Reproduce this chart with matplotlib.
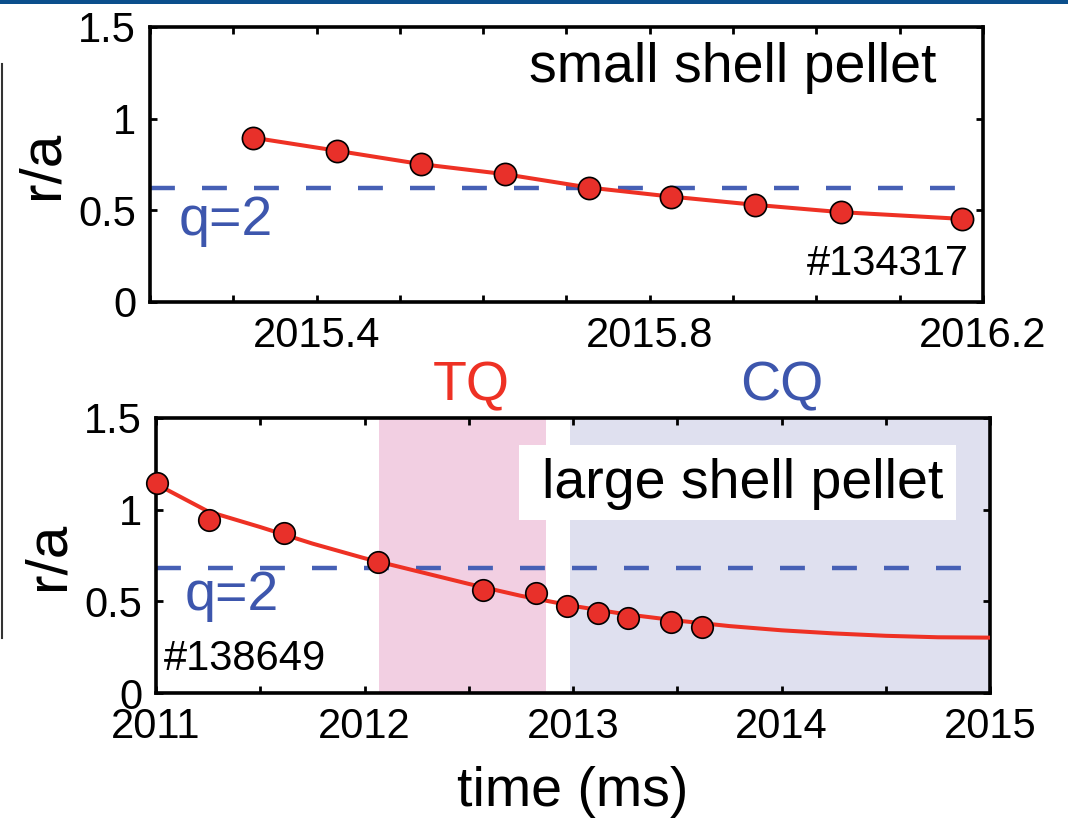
import numpy as np
import matplotlib
matplotlib.use("Agg")
import matplotlib.pyplot as plt
from matplotlib.patches import Rectangle
from matplotlib.lines import Line2D

plt.rcParams['font.family'] = ['Liberation Sans', 'DejaVu Sans']

# small shell pellet, shot #134317
small_t = [2015.324, 2015.424, 2015.525, 2015.626, 2015.727, 2015.825, 2015.926, 2016.029, 2016.175]
small_r = [0.896, 0.825, 0.752, 0.697, 0.624, 0.575, 0.530, 0.490, 0.453]
small_q2 = 0.624

# large shell pellet, shot #138649
large_t = [2011.005, 2011.256, 2011.614, 2012.063, 2012.57, 2012.82, 2012.97, 2013.12, 2013.265, 2013.47, 2013.62]
large_r = [1.144, 0.944, 0.871, 0.716, 0.562, 0.547, 0.473, 0.438, 0.407, 0.385, 0.362]
large_q2 = 0.684

# smooth trend through the large pellet points
fit_t = [2011.0, 2011.25, 2011.5, 2011.75, 2012.0, 2012.25, 2012.5, 2012.75, 2013.0,
         2013.25, 2013.5, 2013.75, 2014.0, 2014.25, 2014.5, 2014.75, 2015.0]
fit_r = [1.140, 0.990, 0.905, 0.815, 0.735, 0.665, 0.595, 0.530, 0.475,
         0.430, 0.395, 0.365, 0.342, 0.325, 0.312, 0.304, 0.302]

tq_span = (2012.07, 2012.87)
cq_span = (2012.985, 2015.0)

RED = '#ee3124'
BLUE = '#4660b5'
TEXT_BLUE = '#3d56ad'
BIG = 40

fig = plt.figure(figsize=(10.68, 8.21), dpi=100)
ax1 = fig.add_axes([0.1404, 0.6322, 0.780, 0.335])
ax2 = fig.add_axes([0.1461, 0.1559, 0.7809, 0.335])


def style_axes(ax):
    for s in ax.spines.values():
        s.set_linewidth(2.6)
    ax.tick_params(which='both', direction='in', top=True, right=True,
                   length=5, width=2.0, labelsize=30, pad=10)
    ax.set_ylim(0, 1.5)
    ax.set_yticks([0, 0.5, 1, 1.5], ['0', '0.5', '1', '1.5'])
    ax.set_ylabel('r/a', fontsize=42, labelpad=6)


# top panel
style_axes(ax1)
ax1.set_xlim(2015.2, 2016.2)
ax1.set_xticks([2015.4, 2015.8, 2016.2], ['2015.4', '2015.8', '2016.2'])
ax1.set_xticks(np.arange(2015.2, 2016.25, 0.1), minor=True)
ax1.plot([2015.2, small_t[-1]], [small_q2, small_q2], color=BLUE, lw=3.2, dashes=(5.6, 6.1))
ax1.plot(small_t, small_r, color=RED, lw=2.9, zorder=3)
ax1.plot(small_t, small_r, 'o', ms=16, mfc='#e8302a', mec='black', mew=1.2, zorder=4, clip_on=False)
ax1.text(0.944, 0.80, 'small shell pellet', transform=ax1.transAxes, fontsize=BIG,
         ha='right', va='baseline')
ax1.text(0.035, 0.244, 'q=2', transform=ax1.transAxes, fontsize=BIG, color=TEXT_BLUE,
         ha='left', va='baseline')
ax1.text(0.983, 0.098, '#134317', transform=ax1.transAxes, fontsize=30,
         ha='right', va='baseline')

# bottom panel
style_axes(ax2)
ax2.set_xlim(2011, 2015)
ax2.set_xticks([2011, 2012, 2013, 2014, 2015], ['2011', '2012', '2013', '2014', '2015'])
ax2.set_xticks(np.arange(2011, 2015.01, 0.5), minor=True)
ax2.axvspan(*tq_span, color='#f2cfe2', lw=0, zorder=0)
ax2.axvspan(*cq_span, color='#dfe0ef', lw=0, zorder=0)
ax2.add_patch(Rectangle((0.435, 0.629), 0.524, 0.273, transform=ax2.transAxes,
                        facecolor='white', edgecolor='none', zorder=1))
ax2.text(0.944, 0.709, 'large shell pellet', transform=ax2.transAxes, fontsize=BIG,
         ha='right', va='baseline', zorder=2)
ax2.plot([2011, 2014.9], [large_q2, large_q2], color=BLUE, lw=3.2, dashes=(5.6, 6.1), zorder=2)
ax2.plot(fit_t, fit_r, color=RED, lw=2.9, zorder=3)
ax2.plot(large_t, large_r, 'o', ms=15.5, mfc='#e8302a', mec='black', mew=1.2, zorder=4, clip_on=False)
ax2.text(0.034, 0.30, 'q=2', transform=ax2.transAxes, fontsize=BIG, color=TEXT_BLUE,
         ha='left', va='baseline')
ax2.text(0.010, 0.084, '#138649', transform=ax2.transAxes, fontsize=30,
         ha='left', va='baseline')
ax2.text(np.mean(tq_span) + 0.04, 1.065, 'TQ', transform=ax2.get_xaxis_transform(),
         fontsize=BIG, color=RED, ha='center', va='baseline')
ax2.text(2014.0, 1.065, 'CQ', transform=ax2.get_xaxis_transform(),
         fontsize=BIG, color=TEXT_BLUE, ha='center', va='baseline')
ax2.set_xlabel('time (ms)', fontsize=BIG, labelpad=14)

# page furniture: header rule and neighbouring panel edge
fig.add_artist(Rectangle((0, 0.995), 1, 0.005, transform=fig.transFigure,
                         facecolor='#0b4f8c', edgecolor='none'))
fig.add_artist(Line2D([0.002, 0.002], [0.223, 0.922], transform=fig.transFigure,
                      color='#333333', lw=1.5))

fig.savefig('out.png', dpi=100)
